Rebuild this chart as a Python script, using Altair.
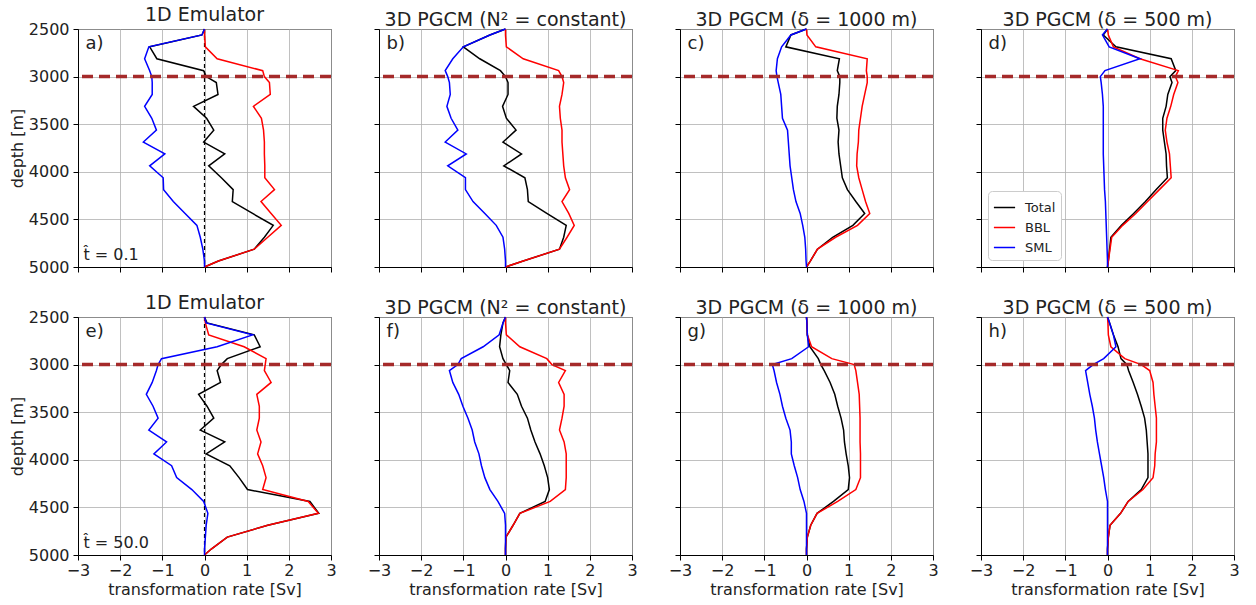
import altair as alt
import pandas as pd

FONT = "DejaVu Sans"

# depth levels [m]
depth = [2500, 2562.5, 2687.5, 2812.5, 2937.5, 3000, 3062.5, 3187.5, 3312.5, 3437.5,
         3562.5, 3687.5, 3812.5, 3937.5, 4062.5, 4187.5, 4312.5, 4437.5, 4562.5,
         4687.5, 4812.5, 4937.5, 5000]

# panel a) 1D emulator, t=0.1
sml_a = [0, -0.06, -1.32, -1.42, -1.30, -1.25, -1.24, -1.24, -1.42, -1.25, -1.14, -1.45, -0.94, -1.30, -0.98, -0.97, -0.74, -0.46, -0.18, -0.10, -0.04, 0, 0]
bbl_a = [0, 0, 0.02, 0.30, 1.38, 1.42, 1.54, 1.56, 1.16, 1.35, 1.40, 1.42, 1.42, 1.43, 1.43, 1.66, 1.34, 1.58, 1.82, 1.50, 1.18, 0.33, 0]
tot_a = [0, -0.06, -1.30, -1.13, -0.02, 0.04, 0.28, 0.32, -0.26, 0.05, 0.22, -0.02, 0.48, 0.10, 0.40, 0.68, 0.66, 1.14, 1.63, 1.42, 1.18, 0.33, 0]
# panel b) 3D PGCM N^2 constant
sml_b = [0, -0.37, -1.00, -1.25, -1.43, -1.37, -1.33, -1.31, -1.39, -1.29, -1.13, -1.43, -0.93, -1.37, -0.95, -0.95, -0.77, -0.49, -0.22, -0.06, -0.02, 0, 0]
bbl_b = [0, 0, 0.02, 0.42, 1.26, 1.34, 1.38, 1.34, 1.28, 1.30, 1.34, 1.34, 1.36, 1.38, 1.42, 1.52, 1.34, 1.50, 1.63, 1.46, 1.28, 0.42, 0]
tot_b = [0, -0.37, -1.00, -0.61, -0.12, 0.0, 0.06, 0.06, -0.07, 0.02, 0.25, -0.06, 0.38, -0.04, 0.46, 0.52, 0.54, 0.98, 1.44, 1.38, 1.28, 0.42, 0]
# panel c) 3D PGCM delta=1000 m
sml_c = [0, -0.37, -0.59, -0.69, -0.72, -0.70, -0.67, -0.61, -0.59, -0.57, -0.45, -0.43, -0.41, -0.39, -0.35, -0.31, -0.25, -0.15, -0.09, -0.04, -0.02, -0.01, 0]
bbl_c = [0, 0.01, 0.22, 1.44, 1.42, 1.44, 1.44, 1.38, 1.32, 1.28, 1.24, 1.23, 1.20, 1.19, 1.24, 1.32, 1.40, 1.50, 1.21, 0.69, 0.26, 0.09, 0]
tot_c = [0, -0.37, -0.49, 0.78, 0.73, 0.79, 0.79, 0.77, 0.73, 0.72, 0.77, 0.75, 0.77, 0.81, 0.85, 0.97, 1.17, 1.38, 1.10, 0.62, 0.26, 0.09, 0]
# panel d) 3D PGCM delta=500 m
sml_d = [0, -0.12, 0.04, 0.77, -0.06, -0.17, -0.15, -0.12, -0.10, -0.10, -0.10, -0.10, -0.10, -0.09, -0.08, -0.07, -0.05, -0.04, -0.03, -0.02, -0.01, 0, 0]
bbl_d = [0, 0.02, 0.14, 0.77, 1.68, 1.61, 1.67, 1.57, 1.50, 1.41, 1.37, 1.41, 1.47, 1.49, 1.51, 1.23, 0.95, 0.67, 0.36, 0.10, 0.06, 0.02, 0]
tot_d = [0, -0.10, 0.20, 1.51, 1.62, 1.48, 1.53, 1.43, 1.39, 1.31, 1.31, 1.35, 1.39, 1.40, 1.42, 1.15, 0.90, 0.62, 0.33, 0.08, 0.05, 0.02, 0]
# panel e) 1D emulator, t=50
sml_e = [0, 0.04, 1.14, 0.30, -1.02, -1.10, -1.14, -1.24, -1.38, -1.22, -1.10, -1.32, -0.90, -1.20, -0.78, -0.66, -0.30, -0.02, 0.08, 0.04, 0.02, 0, 0]
bbl_e = [0, 0.02, 0.10, 0.94, 1.46, 1.44, 1.42, 1.58, 1.24, 1.30, 1.30, 1.24, 1.34, 1.26, 1.38, 1.46, 1.38, 2.46, 2.70, 1.50, 0.54, 0.16, 0]
tot_e = [0, 0.06, 1.18, 1.32, 0.54, 0.40, 0.30, 0.38, -0.14, 0.06, 0.22, -0.10, 0.48, 0.04, 0.60, 0.82, 1.02, 2.50, 2.71, 1.50, 0.54, 0.16, 0]
# panel f)
sml_f = [0, -0.06, -0.15, -0.53, -1.05, -1.13, -1.33, -1.25, -1.11, -1.01, -0.89, -0.79, -0.73, -0.63, -0.57, -0.49, -0.37, -0.18, -0.02, 0, 0, 0, 0]
bbl_f = [0, 0, 0.02, 0.34, 0.98, 1.10, 1.42, 1.26, 1.39, 1.39, 1.34, 1.28, 1.39, 1.44, 1.44, 1.44, 1.42, 1.06, 0.34, 0.18, 0.01, 0, 0]
tot_f = [0, -0.06, -0.11, -0.14, -0.06, 0.02, 0.10, 0.06, 0.28, 0.38, 0.52, 0.60, 0.70, 0.82, 0.92, 1.00, 1.04, 0.94, 0.34, 0.18, 0.01, 0, 0]
# panel g)
sml_g = [0, 0.01, 0.02, 0.05, -0.35, -0.81, -0.77, -0.71, -0.63, -0.57, -0.49, -0.39, -0.36, -0.36, -0.29, -0.21, -0.15, -0.06, 0, 0, 0, 0, 0]
bbl_g = [0, 0.01, 0.02, 0.12, 0.60, 1.13, 1.17, 1.21, 1.25, 1.26, 1.27, 1.27, 1.27, 1.28, 1.28, 1.28, 1.17, 0.74, 0.25, 0.10, 0.02, 0, 0]
tot_g = [0, 0.01, 0.02, 0.08, 0.28, 0.34, 0.42, 0.56, 0.67, 0.74, 0.82, 0.88, 0.90, 0.94, 0.99, 1.02, 0.99, 0.64, 0.25, 0.10, 0.02, 0, 0]
# panel h)
sml_h = [0, 0.05, 0.14, 0.20, -0.09, -0.34, -0.52, -0.47, -0.42, -0.36, -0.31, -0.28, -0.24, -0.19, -0.14, -0.09, -0.05, 0, 0, 0, 0, 0, 0]
bbl_h = [0, 0.01, 0.02, 0.08, 0.41, 0.80, 1.00, 1.08, 1.10, 1.13, 1.16, 1.16, 1.16, 1.13, 1.12, 1.08, 0.84, 0.49, 0.31, 0.06, 0.02, 0, 0]
tot_h = [0, 0.05, 0.14, 0.25, 0.32, 0.46, 0.50, 0.61, 0.71, 0.80, 0.88, 0.92, 0.94, 0.96, 0.96, 0.96, 0.80, 0.49, 0.31, 0.06, 0.02, 0, 0]

labels = ["a)", "b)", "c)", "d)", "e)", "f)", "g)", "h)"]
titles = ["1D Emulator", "3D PGCM (N² = constant)", "3D PGCM (δ = 1000 m)", "3D PGCM (δ = 500 m)"]
series = ["Total", "BBL", "SML"]
colors = ["black", "red", "blue"]
x_ticks = [-3, -2, -1, 0, 1, 2, 3]
y_ticks = [2500, 3000, 3500, 4000, 4500, 5000]
time_labels = {0: "t\u0302 = 0.1", 4: "t\u0302 = 50.0"}
interface_depth = [3000]

data = [
    (sml_a, bbl_a, tot_a), (sml_b, bbl_b, tot_b), (sml_c, bbl_c, tot_c), (sml_d, bbl_d, tot_d),
    (sml_e, bbl_e, tot_e), (sml_f, bbl_f, tot_f), (sml_g, bbl_g, tot_g), (sml_h, bbl_h, tot_h),
]

W, H = 253, 238


def panel(i):
    sml, bbl, tot = data[i]
    row, col = divmod(i, 4)
    xaxis = alt.Axis(values=x_ticks, labels=(row == 1), format="d",
                     title="transformation rate [Sv]" if row == 1 else None)
    yaxis = alt.Axis(values=y_ticks, labels=(col == 0), format="d", labelPadding=4,
                     title="depth [m]" if col == 0 else None)
    xs = alt.Scale(domain=[-3, 3], nice=False)
    ys = alt.Scale(domain=[2500, 5000], reverse=True, nice=False)
    if i == 3:
        legend = alt.Legend(orient="bottom-left", title=None, symbolType="stroke",
                            symbolStrokeWidth=1.5, symbolSize=450, labelFontSize=13,
                            labelFont=FONT, labelColor="#222222", fillColor="white",
                            strokeColor="#cccccc", cornerRadius=4, padding=5, offset=7,
                            rowPadding=1, labelOffset=9)
    else:
        legend = None
    layers = []
    for name, vals in (("Total", tot), ("BBL", bbl), ("SML", sml)):
        df = pd.DataFrame({"depth": depth, "rate": vals, "series": name})
        layers.append(
            alt.Chart(df).mark_line(strokeWidth=1.5).encode(
                x=alt.X("rate:Q", scale=xs, axis=xaxis),
                y=alt.Y("depth:Q", scale=ys, axis=yaxis),
                color=alt.Color("series:N", scale=alt.Scale(domain=series, range=colors),
                                legend=legend),
                order=alt.Order("depth:Q"),
            )
        )
    if col == 0:
        layers.insert(0, alt.Chart(pd.DataFrame({"rate": [0]})).mark_rule(
            color="black", strokeDash=[4, 3], strokeWidth=1.2).encode(x="rate:Q"))
    layers.append(alt.Chart(pd.DataFrame({"depth": interface_depth})).mark_rule(
        color="#a52a2a", strokeDash=[11, 6], strokeWidth=3.5).encode(y="depth:Q"))
    layers.append(alt.Chart(pd.DataFrame({"rate": [-2.82], "depth": [2660], "t": [labels[i]]}))
                  .mark_text(align="left", baseline="middle", fontSize=18, font=FONT, color="#222222")
                  .encode(x="rate:Q", y="depth:Q", text="t:N"))
    if i in time_labels:
        layers.append(alt.Chart(pd.DataFrame({"rate": [-2.87], "depth": [4870], "t": [time_labels[i]]}))
                      .mark_text(align="left", baseline="middle", fontSize=16, font=FONT, color="#222222")
                      .encode(x="rate:Q", y="depth:Q", text="t:N"))
    return alt.layer(*layers).properties(
        width=W, height=H,
        title=alt.TitleParams(titles[col], fontSize=19, font=FONT, fontWeight="normal",
                              color="#222222", offset=-4),
    )


chart = alt.concat(*[panel(i) for i in range(8)], columns=4,
                   spacing={"row": 50, "column": 48}, bounds="flush") \
    .resolve_legend(color="independent") \
    .properties(padding={"left": 8, "top": 5, "right": 5, "bottom": 2}) \
    .configure_view(stroke="black", strokeWidth=1) \
    .configure_axis(domainColor="black", tickColor="black", tickSize=5, labelFontSize=16,
                    labelFont=FONT, labelColor="#222222", titleFont=FONT, titleFontSize=16,
                    titleFontWeight="normal", titleColor="#222222", gridColor="#b0b0b0",
                    gridWidth=0.8, labelPadding=2, titlePadding=3, labelFlush=False)

chart.save("out.html", embed_options={"renderer": "svg", "actions": False})
